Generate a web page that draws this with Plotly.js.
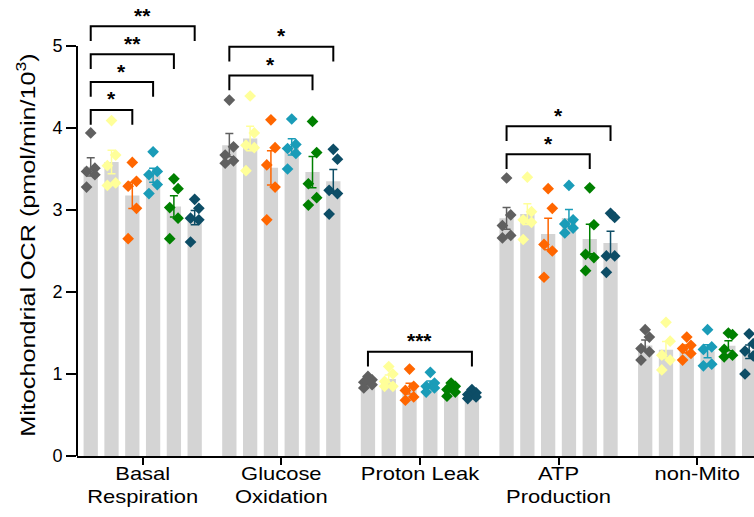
<!DOCTYPE html>
<html>
<head>
<meta charset="utf-8">
<script src="https://cdn.plot.ly/plotly-3.0.1.min.js"></script>
<style>html,body{margin:0;padding:0;background:#fff;}#chart{width:754px;height:517px;}</style>
</head>
<body>
<div id="chart"></div>
<script>
// ---- data ----
const categories = ["Basal<br>Respiration", "Glucose<br>Oxidation", "Proton Leak", "ATP<br>Production", "non-Mito"];
const seriesNames = ["Group 1", "Group 2", "Group 3", "Group 4", "Group 5", "Group 6"];
const seriesColors = ["#606060", "#ffff99", "#ff6600", "#1a9cb8", "#008000", "#0d4d66"];

// individual replicate values, [category][5 points]
const s1 = [[3.94, 3.51, 3.47, 3.43, 3.28], [4.34, 3.77, 3.67, 3.60, 3.57], [0.97, 0.93, 0.90, 0.87, 0.83], [3.39, 2.94, 2.81, 2.69, 2.66], [1.54, 1.45, 1.31, 1.27, 1.17]];
const s2 = [[4.09, 3.67, 3.54, 3.33, 3.30], [4.39, 3.94, 3.79, 3.76, 3.48], [1.09, 1.00, 0.91, 0.85, 0.85], [3.40, 2.98, 2.88, 2.85, 2.64], [1.63, 1.40, 1.23, 1.17, 1.05]];
const s3 = [[3.58, 3.35, 3.29, 3.02, 2.65], [4.10, 3.76, 3.55, 3.28, 2.88], [1.06, 0.85, 0.80, 0.72, 0.68], [3.26, 3.02, 2.58, 2.50, 2.18], [1.45, 1.35, 1.31, 1.25, 1.17]];
const s4 = [[3.71, 3.47, 3.43, 3.31, 3.20], [4.11, 3.80, 3.75, 3.69, 3.50], [1.02, 0.89, 0.85, 0.83, 0.78], [3.30, 2.88, 2.83, 2.78, 2.72], [1.54, 1.33, 1.30, 1.12, 1.10]];
const s5 = [[3.38, 3.26, 3.03, 2.90, 2.65], [4.08, 3.70, 3.32, 3.15, 3.06], [0.89, 0.85, 0.81, 0.78, 0.73], [3.27, 2.82, 2.46, 2.42, 2.26], [1.50, 1.48, 1.30, 1.23, 1.21]];
const s6 = [[3.13, 3.02, 2.90, 2.88, 2.61], [3.74, 3.62, 3.24, 3.20, 2.95], [0.81, 0.77, 0.75, 0.72, 0.70], [2.96, 2.91, 2.44, 2.44, 2.24], [1.49, 1.37, 1.28, 1.22, 1.00]];
const allSeries = [s1, s2, s3, s4, s5, s6];

// significance comparisons (vs first series): category index, compared series, label, bracket level
const sigCat = [0, 0, 0, 0, 1, 1, 2, 3, 3];
const sigTo = [2, 3, 4, 5, 4, 5, 5, 4, 5];
const sigLabel = ["*", "*", "**", "**", "*", "*", "***", "*", "*"];
const sigLevel = [4.22, 4.56, 4.90, 5.24, 4.64, 4.99, 1.27, 3.68, 4.02];

// ---- layout helpers (positions) ----
const slot = 0.15, barW = 0.103;
const jitter = [0, 0.03, -0.03, 0.03, -0.03];
const xPos = (g, j) => g + (j - 2.5) * slot;
const mean = a => a.reduce((s, v) => s + v, 0) / a.length;
const sem = a => { const m = mean(a); return Math.sqrt(a.reduce((s, v) => s + (v - m) ** 2, 0) / (a.length - 1)) / Math.sqrt(a.length); };

const traces = [];
allSeries.forEach((ser, j) => {
  traces.push({
    type: "bar", name: seriesNames[j], showlegend: false,
    x: categories.map((c, g) => xPos(g, j)),
    y: ser.map(mean), width: barW,
    marker: {color: "#d4d4d4", line: {width: 0}},
    error_y: {type: "data", array: ser.map(sem), visible: true, color: seriesColors[j], thickness: 1.5, width: 4},
    hoverinfo: "skip"
  });
});
allSeries.forEach((ser, j) => {
  const xs = [], ys = [];
  ser.forEach((pts, g) => pts.forEach((v, k) => { xs.push(xPos(g, j) + jitter[k]); ys.push(v); }));
  traces.push({
    type: "scatter", mode: "markers", name: seriesNames[j], showlegend: false,
    x: xs, y: ys,
    marker: {symbol: "diamond", size: 9, color: seriesColors[j], line: {width: 0}},
    cliponaxis: false
  });
});

const shapes = [{type: "line", xref: "paper", yref: "y", x0: 0, x1: 0, y0: 0, y1: 5, line: {color: "#000", width: 2}}];
const annotations = [];
const leg = 0.18;
sigCat.forEach((g, i) => {
  const x0 = xPos(g, 0), x1 = xPos(g, sigTo[i]), y = sigLevel[i];
  shapes.push({type: "path", xref: "x", yref: "y",
    path: `M ${x0} ${y - leg} L ${x0} ${y} L ${x1} ${y} L ${x1} ${y - leg}`,
    line: {color: "#000", width: 2}});
  annotations.push({xref: "x", yref: "y", x: (x0 + x1) / 2, y: y - 0.03, text: "<b>" + sigLabel[i] + "</b>",
    showarrow: false, yanchor: "bottom", font: {family: "Liberation Sans, Arial", size: 21, color: "#000"}});
});

const layout = {
  width: 754, height: 517,
  margin: {l: 77, r: 0, t: 0, b: 61},
  paper_bgcolor: "#fff", plot_bgcolor: "#fff",
  barmode: "overlay",
  showlegend: false,
  font: {family: "Liberation Sans, Arial", color: "#000"},
  xaxis: {range: [-0.474, 4.41], tickvals: categories.map((c, g) => g), ticktext: categories,
    showgrid: false, zeroline: false, showline: true, linecolor: "#000", linewidth: 2,
    ticks: "outside", ticklen: 7, tickwidth: 2, tickcolor: "#000", tickfont: {size: 18}},
  yaxis: {range: [0, 5.561], tickvals: [0, 1, 2, 3, 4, 5], showgrid: false, zeroline: false, showline: false,
    ticks: "outside", ticklen: 10, tickwidth: 2, tickcolor: "#000", tickfont: {size: 18},
    title: {text: "Mitochondrial OCR (pmol/min/10<sup>3</sup>)", font: {size: 20}, standoff: 6}},
  shapes: shapes, annotations: annotations
};

Plotly.newPlot("chart", traces, layout, {displayModeBar: false, staticPlot: true}).then(() => {
  // widen label glyphs to match the reference typeface proportions
  document.querySelectorAll("#chart .xtick text").forEach(t => {
    const x = parseFloat(t.getAttribute("x")) || 0;
    const prev = t.getAttribute("transform") || "";
    t.setAttribute("transform", `${prev} translate(0,-7) translate(${x},0) scale(1.22,1) translate(${-x},0)`);
  });
  const yt = document.querySelector("#chart .ytitle");
  if (yt) {
    const cx = parseFloat(yt.getAttribute("x")), cy = parseFloat(yt.getAttribute("y"));
    const prev = yt.getAttribute("transform") || "";
    yt.setAttribute("transform", `${prev} translate(${cx},${cy}) translate(-17,-5) scale(1.26,1) translate(${-cx},${-cy})`);
  }
});
</script>
</body>
</html>
